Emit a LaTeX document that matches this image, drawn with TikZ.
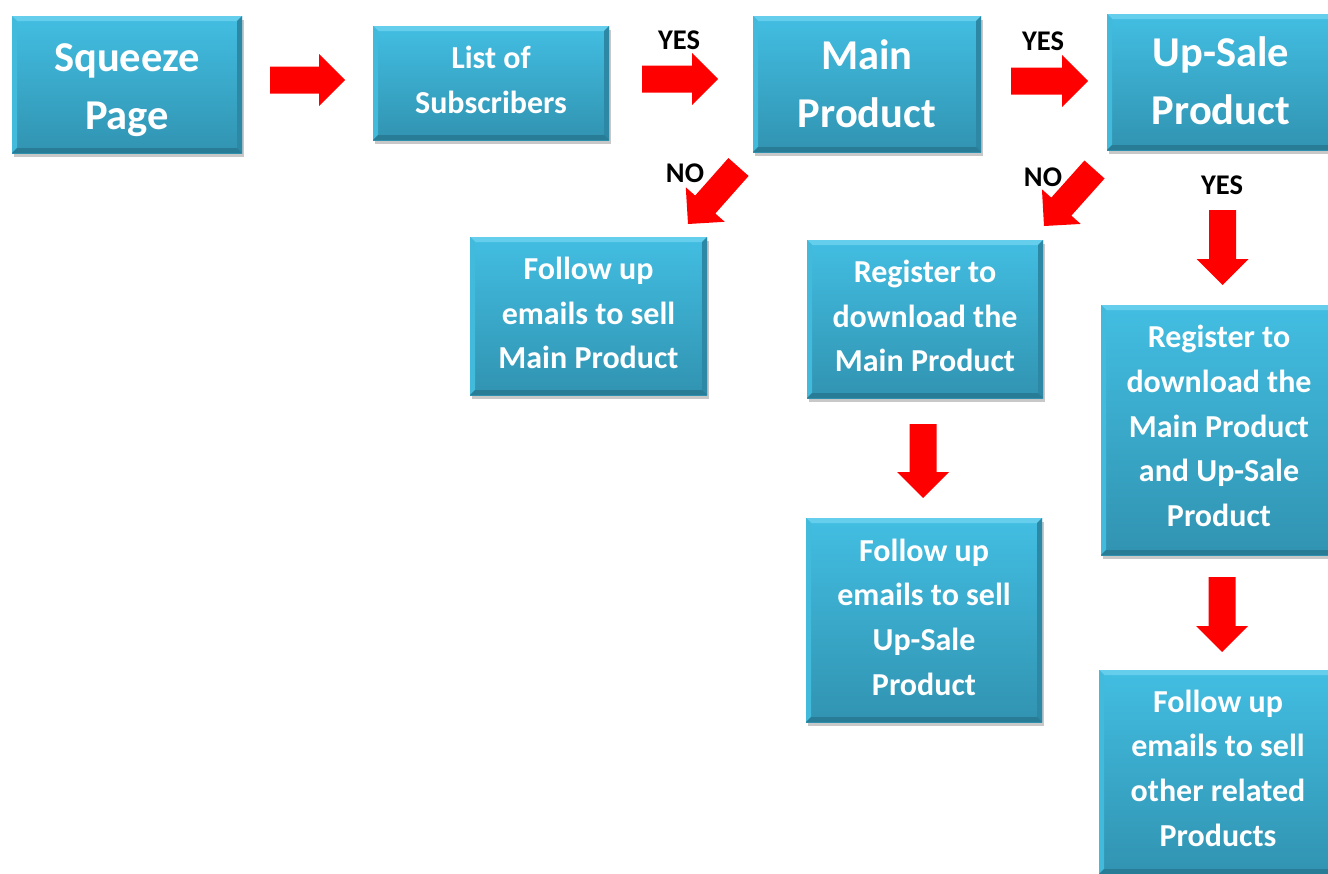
\documentclass[tikz,border=0pt]{standalone}
\usepackage{fontspec}
\setmainfont{Carlito}
\usetikzlibrary{calc,shadows}
\definecolor{boxtop}{RGB}{66,190,226}
\definecolor{boxbot}{RGB}{49,147,177}
\definecolor{bevlight}{RGB}{100,206,236}
\definecolor{bevleft}{RGB}{66,186,220}
\definecolor{bevright}{RGB}{44,136,164}
\definecolor{bevbot}{RGB}{40,124,150}
\definecolor{arrowred}{RGB}{255,0,0}
\newcommand\barrow[2]{%
  \coordinate (bh) at ($(#2)!26pt!(#1)$);
  \fill[arrowred] ($(#1)!13.5pt!90:(#2)$) -- ($(bh)!13.5pt!-90:(#1)$) -- ($(bh)!26pt!-90:(#1)$) -- (#2)
     -- ($(bh)!26pt!90:(#1)$) -- ($(bh)!13.5pt!90:(#1)$) -- ($(#1)!13.5pt!-90:(#2)$) -- cycle;}
\tikzset{
  box/.style={rectangle, inner sep=0pt, align=center, text=white,
    top color=boxtop, bottom color=boxbot, draw=none,
    drop shadow={opacity=0.3, shadow xshift=1.5pt, shadow yshift=-4pt, fill=black!70},
    path picture={
      \fill[bevlight] (path picture bounding box.north west) -- (path picture bounding box.north east)
        -- ([xshift=-5pt,yshift=-5pt]path picture bounding box.north east) -- ([xshift=5pt,yshift=-5pt]path picture bounding box.north west) -- cycle;
      \fill[bevleft] (path picture bounding box.north west) -- ([xshift=5pt,yshift=-5pt]path picture bounding box.north west)
        -- ([xshift=5pt,yshift=5pt]path picture bounding box.south west) -- (path picture bounding box.south west) -- cycle;
      \fill[bevright] (path picture bounding box.north east) -- ([xshift=-5pt,yshift=-5pt]path picture bounding box.north east)
        -- ([xshift=-5pt,yshift=5pt]path picture bounding box.south east) -- (path picture bounding box.south east) -- cycle;
      \fill[bevbot] (path picture bounding box.south west) -- ([xshift=5pt,yshift=5pt]path picture bounding box.south west)
        -- ([xshift=-5pt,yshift=5pt]path picture bounding box.south east) -- (path picture bounding box.south east) -- cycle;
    }},
  bigtxt/.style={font=\fontsize{42.5}{58}\selectfont\bfseries},
  smalltxt/.style={font=\fontsize{32}{44.7}\selectfont\bfseries},
  lbl/.style={font=\fontsize{28.5}{30}\selectfont\bfseries, text=black, inner sep=0pt},
}
\begin{document}
\begin{tikzpicture}[x=1pt,y=-1pt]
\clip (0,0) rectangle (1328,873);
\fill[white] (0,0) rectangle (1328,873);
% boxes
\node[box, minimum width=230pt, minimum height=137pt] (sp) at (127,84.5) {};
\node[box, minimum width=236pt, minimum height=114pt] (ls) at (491,83) {};
\node[box, minimum width=228pt, minimum height=136pt] (mp) at (867,84) {};
\node[box, minimum width=228pt, minimum height=136pt] (us) at (1221,82) {};
\node[box, minimum width=237pt, minimum height=158pt] (fm) at (588.5,316) {};
\node[box, minimum width=236pt, minimum height=158pt] (rm) at (925,319) {};
\node[box, minimum width=236pt, minimum height=204pt] (fu) at (924,620) {};
\node[box, minimum width=236pt, minimum height=250pt] (ru) at (1219,430) {};
\node[box, minimum width=238pt, minimum height=204pt] (fo) at (1218,772) {};
% texts
\node[bigtxt, text=white, align=center] (tsp) at ([yshift=-6pt]sp.center) {Squeeze\\Page};
\node[smalltxt, text=white, align=center] (tls) at ([yshift=3pt]ls.center) {List of\\Subscribers};
\node[bigtxt, text=white, align=center] (tmp) at ([yshift=0.5pt]mp.center) {Main\\Product};
\node[bigtxt, text=white, align=center] (tus) at ([yshift=1pt]us.center) {Up-Sale\\Product};
\node[smalltxt, text=white, align=center] (tfm) at ([yshift=3pt]fm.center) {Follow up\\emails to sell\\Main Product};
\node[smalltxt, text=white, align=center] (trm) at ([yshift=3pt]rm.center) {Register to\\download the\\Main Product};
\node[smalltxt, text=white, align=center] (tfu) at ([yshift=3pt]fu.center) {Follow up\\emails to sell\\Up-Sale\\Product};
\node[smalltxt, text=white, align=center] (tru) at ([yshift=4pt]ru.center) {Register to\\download the\\Main Product\\and Up-Sale\\Product};
\node[smalltxt, text=white, align=center] (tfo) at ([yshift=4pt]fo.center) {Follow up\\emails to sell\\other related\\Products};
% labels
\node[lbl] (y1) at (679,40) {YES};
\node[lbl] (y2) at (1043,41) {YES};
\node[lbl] (y3) at (1222,185) {YES};
\node[lbl] (n1) at (685,173) {NO};
\node[lbl] (n2) at (1043,177) {NO};
% arrows
\coordinate (a1s) at (270,80); \coordinate (a1e) at (345,80);
\coordinate (a2s) at (642,79); \coordinate (a2e) at (718,79);
\coordinate (a3s) at (1011,81); \coordinate (a3e) at (1088,81);
\coordinate (n1s) at (738.5,167); \coordinate (n1e) at (688,224);
\coordinate (n2s) at (1094.5,169.5); \coordinate (n2e) at (1044,226);
\coordinate (d1s) at (1222.5,210); \coordinate (d1e) at (1222.5,285);
\coordinate (d2s) at (923,424); \coordinate (d2e) at (923,498);
\coordinate (d3s) at (1222,577); \coordinate (d3e) at (1222,652);
\barrow{a1s}{a1e}
\barrow{a2s}{a2e}
\barrow{a3s}{a3e}
\barrow{n1s}{n1e}
\barrow{n2s}{n2e}
\barrow{d1s}{d1e}
\barrow{d2s}{d2e}
\barrow{d3s}{d3e}
\end{tikzpicture}
\end{document}
